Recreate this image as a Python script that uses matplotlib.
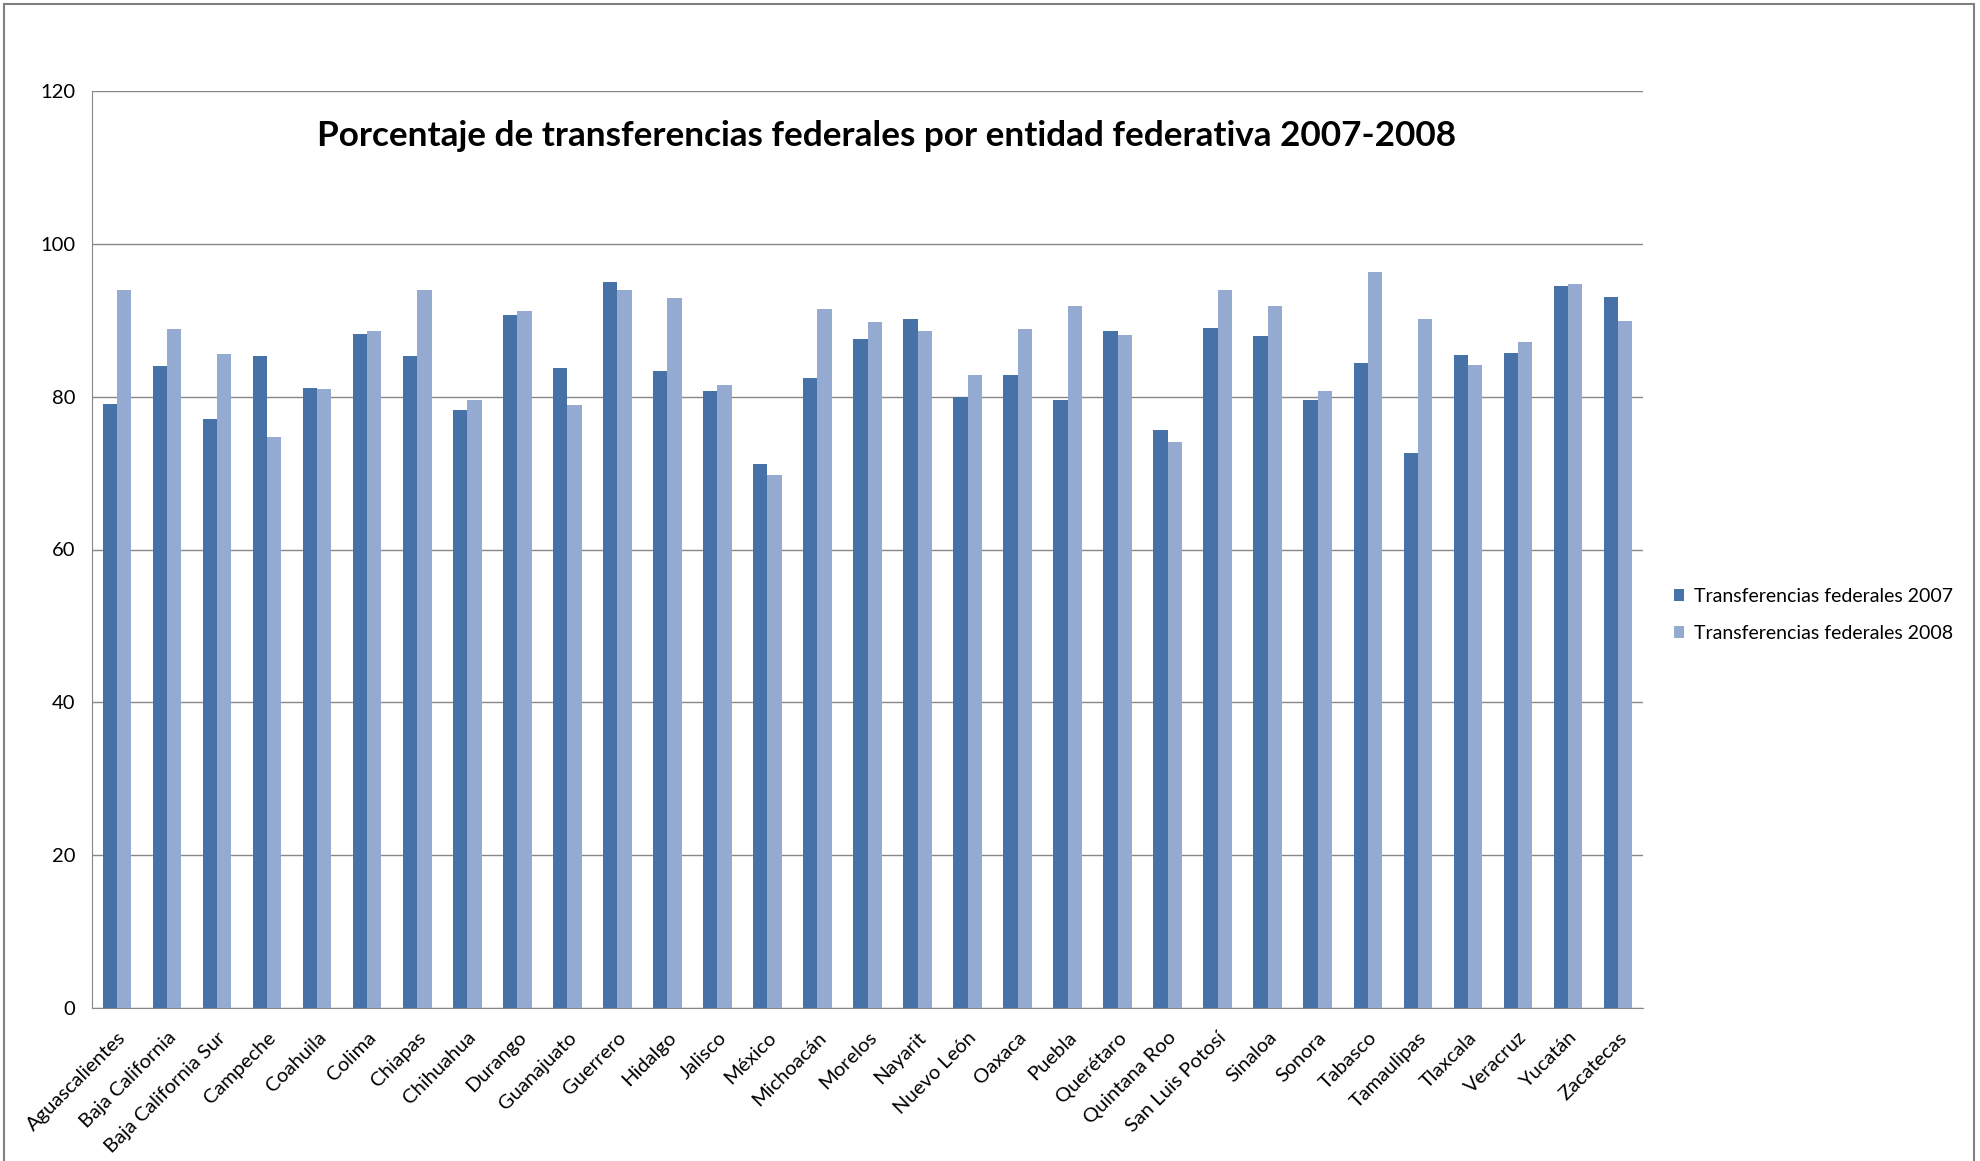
import matplotlib
matplotlib.use("Agg")
import matplotlib.pyplot as plt
import numpy as np
from matplotlib.patches import Rectangle

plt.rcParams['font.family'] = ['Lato', 'DejaVu Sans']

states = ["Aguascalientes", "Baja California", "Baja California Sur", "Campeche", "Coahuila",
          "Colima", "Chiapas", "Chihuahua", "Durango", "Guanajuato", "Guerrero", "Hidalgo",
          "Jalisco", "México", "Michoacán", "Morelos", "Nayarit", "Nuevo León", "Oaxaca",
          "Puebla", "Querétaro", "Quintana Roo", "San Luis Potosí", "Sinaloa", "Sonora",
          "Tabasco", "Tamaulipas", "Tlaxcala", "Veracruz", "Yucatán", "Zacatecas"]
t2007 = [79.0, 84.0, 77.1, 85.3, 81.1, 88.2, 85.3, 78.2, 90.7, 83.8, 95.0, 83.3,
         80.7, 71.2, 82.4, 87.6, 90.2, 80.0, 82.9, 79.6, 88.6, 75.6, 89.0, 88.0, 79.6,
         84.4, 72.6, 85.5, 85.7, 94.5, 93.1]
t2008 = [94.0, 88.8, 85.6, 74.7, 81.0, 88.6, 94.0, 79.5, 91.2, 78.9, 93.9, 92.9,
         81.5, 69.8, 91.5, 89.8, 88.6, 82.8, 88.9, 91.8, 88.1, 74.1, 94.0, 91.8, 80.7,
         96.3, 90.2, 84.1, 87.2, 94.7, 89.9]
series_names = ["Transferencias federales 2007", "Transferencias federales 2008"]
yticks = [0, 20, 40, 60, 80, 100, 120]
title = "Porcentaje de transferencias federales por entidad federativa 2007-2008"

W, H = 1980, 1161
fig = plt.figure(figsize=(W / 100, H / 100), dpi=100)
ax = fig.add_axes([92 / W, 1 - 1008 / H, (1643 - 92) / W, (1008 - 91) / H])

x = np.arange(len(states))
bw = 1 / 3.5
ax.bar(x - bw / 2, t2007, width=bw, color="#4672A8", label=series_names[0], zorder=3)
ax.bar(x + bw / 2, t2008, width=bw, color="#95AAD1", label=series_names[1], zorder=3)

ax.set_xlim(-0.5, len(states) - 0.5)
ax.set_ylim(0, 120)
ax.set_yticks(yticks)
ax.set_yticklabels([str(v) for v in yticks], fontsize=14.5)
ax.yaxis.grid(True, color="#878787", linewidth=1.0, zorder=0)
ax.set_axisbelow(True)
ax.set_xticks(x)
ax.set_xticklabels(states, rotation=45, ha="right", rotation_mode="anchor", fontsize=14.5)
ax.tick_params(axis="y", length=0, pad=12)
ax.tick_params(axis="x", length=0, pad=15)
for s in ["top", "right"]:
    ax.spines[s].set_visible(False)
ax.spines["left"].set_color("#878787")
ax.spines["bottom"].set_color("#878787")

fig.text(887 / W, 1 - 136 / H, title, ha="center", va="center", fontsize=25.3,
         fontweight="bold", family=["Lato", "DejaVu Sans"])

leg = fig.legend(loc="center left", bbox_to_anchor=(1656 / W, 1 - 615 / H), frameon=False,
                 fontsize=14, handlelength=0.55, handleheight=0.55, handletextpad=0.5,
                 labelspacing=1.05)

fig.patches.append(Rectangle((4 / W, -0.01), (1974 - 4) / W, 1 - 4 / H + 0.01,
                             transform=fig.transFigure, fill=False,
                             edgecolor="#808080", linewidth=1.5))

fig.savefig("out.png", dpi=100, facecolor="white")
